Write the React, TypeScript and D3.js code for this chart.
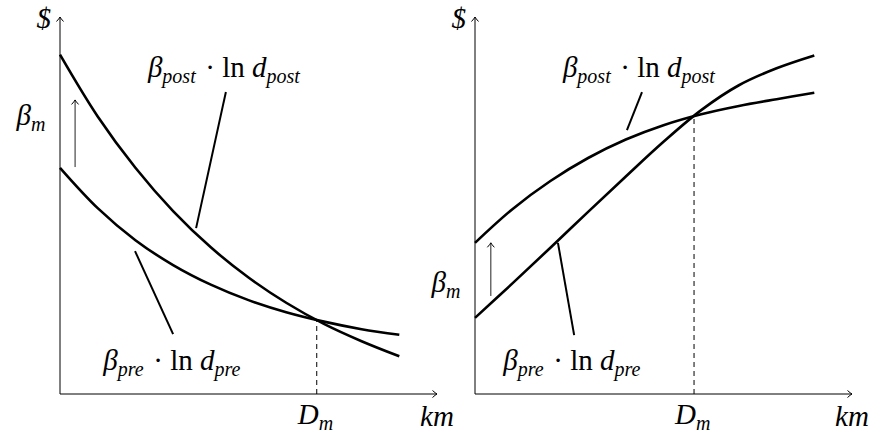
import React from 'react';
import * as d3 from 'd3';

// distance (km) samples shared by all curves
const kmSteps = [0, 1, 2, 3, 4, 5, 6, 7, 8, 9];

// left panel: decreasing cost curves
const leftPre = [6.0, 4.93, 4.08, 3.42, 2.9, 2.49, 2.17, 1.92, 1.72, 1.57];
const leftPost = [9.0, 7.36, 6.0, 4.85, 3.89, 3.09, 2.42, 1.86, 1.4, 1.0];

// right panel: increasing cost curves
const rightPre = [2.02, 2.94, 3.88, 4.83, 5.77, 6.69, 7.53, 8.19, 8.64, 8.98];
const rightPost = [4.01, 4.91, 5.65, 6.26, 6.75, 7.13, 7.42, 7.64, 7.82, 7.99];

// crossing point D_m  [km, $]
const leftCross = [6.81, 1.97];
const rightCross = [5.81, 7.36];

// annotation lines [x1, y1, x2, y2]
const leftPostPointer = [4.4, 8.01, 3.61, 4.4];
const leftPrePointer = [1.99, 3.79, 3.0, 1.59];
const leftShift = [0.4, 6.02, 0.4, 7.8];
const rightPostPointer = [4.43, 8.01, 4.03, 7.0];
const rightPrePointer = [2.2, 4.01, 2.63, 1.56];
const rightShift = [0.42, 2.6, 0.42, 4.01];

// label anchors [x, y]
const leftPostLabel = [4.38, 8.41];
const leftPreLabel = [3.0, 0.64];
const rightPostLabel = [4.38, 8.41];
const rightPreLabel = [2.6, 0.64];
const leftBetaLabel = [-0.32, 7.14];
const rightBetaLabel = [-0.32, 2.71];

const W = 873;
const H = 434;
const UNIT = 37.7;
const FONT = '"Liberation Serif", "Times New Roman", serif';
const FS = 29;
const SUB = 20;

const Sub = ({ base, sub, italicBase = true }: { base: string; sub: string; italicBase?: boolean }) => (
  <>
    <tspan fontStyle={italicBase ? 'italic' : 'normal'}>{base}</tspan>
    <tspan fontStyle="italic" fontSize={SUB} dy={6}>{sub}</tspan>
    <tspan dy={-6}>{'\u200a'}</tspan>
  </>
);

const CostLabel = ({ x, y, tag }: { x: number; y: number; tag: string }) => (
  <text x={x} y={y} textAnchor="middle" fontFamily={FONT} fontSize={FS}>
    <Sub base="β" sub={tag} />
    <tspan>{' · ln '}</tspan>
    <Sub base="d" sub={tag} />
  </text>
);

interface PanelProps {
  originX: number;
  pre: number[];
  post: number[];
  cross: number[];
  postPointer: number[];
  prePointer: number[];
  shift: number[];
  postLabel: number[];
  preLabel: number[];
  betaLabel: number[];
}

const Panel: React.FC<PanelProps> = (p) => {
  const x = d3.scaleLinear().domain([0, 10]).range([p.originX, p.originX + 10 * UNIT]);
  const y = d3.scaleLinear().domain([0, 10]).range([394, 394 - 10 * UNIT]);

  const line = d3.line<number>()
    .x((_, i) => x(kmSteps[i]))
    .y(d => y(d))
    .curve(d3.curveCatmullRom.alpha(0.5));

  const seg = (s: number[]) => ({ x1: x(s[0]), y1: y(s[1]), x2: x(s[2]), y2: y(s[3]) });

  return (
    <g>
      {/* axes */}
      <line x1={x(0)} y1={y(0)} x2={x(10)} y2={y(0)} stroke="#000" strokeWidth={1} markerEnd="url(#tip)" />
      <line x1={x(0)} y1={y(0)} x2={x(0)} y2={y(10)} stroke="#000" strokeWidth={1} markerEnd="url(#tip)" />
      <text x={x(-0.24)} y={y(9.7)} textAnchor="end" fontFamily={FONT} fontSize={FS} fontStyle="italic">$</text>
      <text x={x(10)} y={y(-0.85)} textAnchor="middle" fontFamily={FONT} fontSize={FS} fontStyle="italic">km</text>

      {/* D_m marker */}
      <line x1={x(p.cross[0])} y1={y(0)} x2={x(p.cross[0])} y2={y(p.cross[1])} stroke="#000" strokeWidth={1} strokeDasharray="5,4" />
      <text x={x(p.cross[0])} y={y(-0.8)} textAnchor="middle" fontFamily={FONT} fontSize={FS}>
        <Sub base="D" sub="m" />
      </text>

      {/* curves */}
      <path d={line(p.post) || ''} fill="none" stroke="#000" strokeWidth={2.6} />
      <path d={line(p.pre) || ''} fill="none" stroke="#000" strokeWidth={2.6} />

      {/* pointers */}
      <line {...seg(p.postPointer)} stroke="#000" strokeWidth={2} />
      <line {...seg(p.prePointer)} stroke="#000" strokeWidth={2} />
      <line {...seg(p.shift)} stroke="#222" strokeWidth={1} markerEnd="url(#tip)" />

      <CostLabel x={x(p.postLabel[0])} y={y(p.postLabel[1])} tag="post" />
      <CostLabel x={x(p.preLabel[0])} y={y(p.preLabel[1])} tag="pre" />
      <text x={x(p.betaLabel[0])} y={y(p.betaLabel[1])} textAnchor="end" fontFamily={FONT} fontSize={FS}>
        <Sub base="β" sub="m" />
      </text>
    </g>
  );
};

export default function App() {
  return (
    <svg width={W} height={H} style={{ position: 'absolute', left: 0, top: 0, background: '#fff' }}>
      <defs>
        <marker id="tip" viewBox="-6 -5 8 10" markerWidth={8} markerHeight={10} refX={0} refY={0} orient="auto" markerUnits="userSpaceOnUse">
          <path d="M-4.5,-3.5 Q-1.5,-0.8 0,0 Q-1.5,0.8 -4.5,3.5" fill="none" stroke="#000" strokeWidth={1} />
        </marker>
      </defs>
      <Panel
        originX={60}
        pre={leftPre}
        post={leftPost}
        cross={leftCross}
        postPointer={leftPostPointer}
        prePointer={leftPrePointer}
        shift={leftShift}
        postLabel={leftPostLabel}
        preLabel={leftPreLabel}
        betaLabel={leftBetaLabel}
      />
      <Panel
        originX={475}
        pre={rightPre}
        post={rightPost}
        cross={rightCross}
        postPointer={rightPostPointer}
        prePointer={rightPrePointer}
        shift={rightShift}
        postLabel={rightPostLabel}
        preLabel={rightPreLabel}
        betaLabel={rightBetaLabel}
      />
    </svg>
  );
}
